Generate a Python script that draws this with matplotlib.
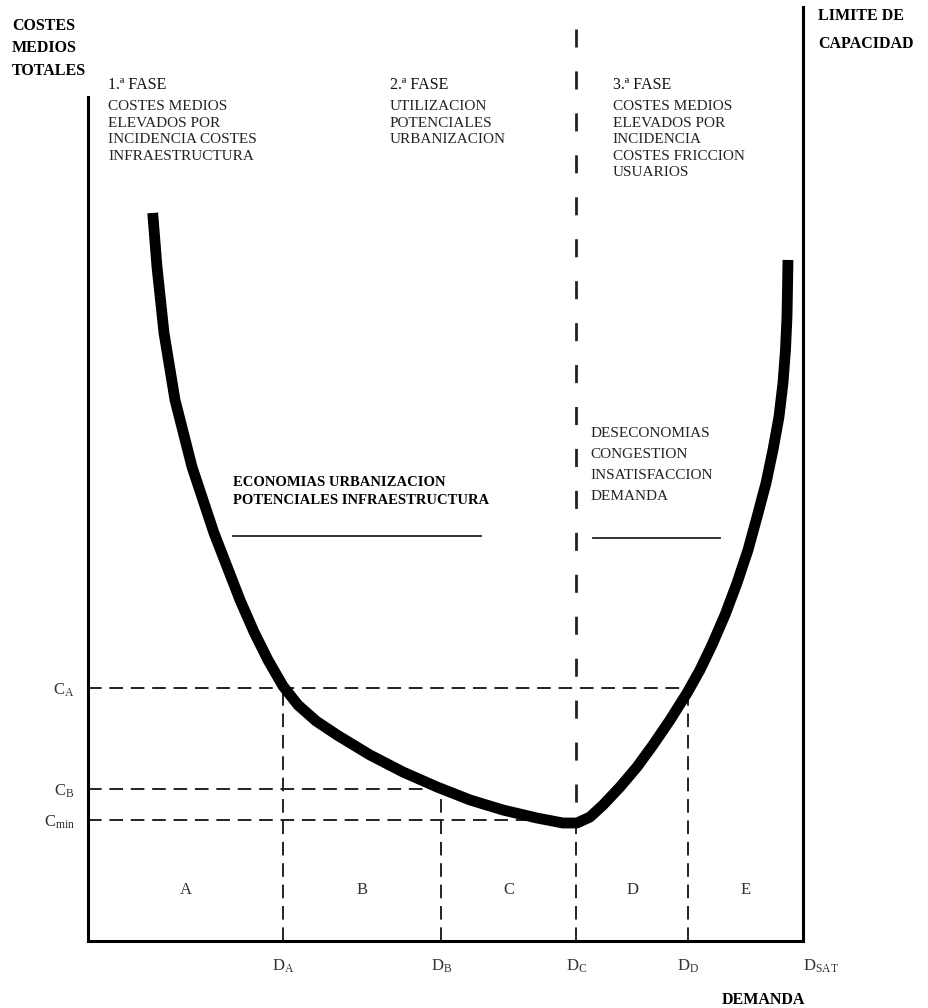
import matplotlib
matplotlib.use('Agg')
import matplotlib.pyplot as plt

plt.rcParams['font.family'] = ['Liberation Serif', 'DejaVu Serif']
plt.rcParams['mathtext.fontset'] = 'custom'
plt.rcParams['mathtext.rm'] = 'Liberation Serif'

# demand and average cost, arbitrary units (0-100)
demanda = [9.05, 9.65, 10.63, 12.17, 14.55, 17.62, 21.26, 23.22, 25.17,
           27.27, 29.37, 31.89, 34.83, 39.44, 44.06, 48.81, 53.43, 58.04,
           62.80, 66.43, 68.39, 70.21, 72.03, 74.41, 76.78, 79.02, 81.40,
           83.78, 85.59, 87.27, 89.09, 90.77, 92.31, 93.57, 94.83, 95.80,
           96.64, 97.20, 97.55, 97.76, 97.83, 97.90]
coste = [86.26, 79.86, 72.04, 64.10, 56.16, 48.34, 40.40, 36.61, 33.29,
         30.21, 27.96, 26.07, 24.41, 22.04, 20.02, 18.25, 16.71, 15.52,
         14.57, 13.98, 13.98, 14.69, 16.11, 18.25, 20.62, 23.22, 26.18,
         29.38, 32.11, 35.07, 38.63, 42.42, 46.33, 50.24, 54.27, 58.18,
         62.09, 66.11, 70.02, 73.93, 77.13, 80.69]

d_ticks = [27.3, 49.4, 68.3, 83.9, 100]
d_labels = [r'$\mathrm{D_A}$', r'$\mathrm{D_B}$', r'$\mathrm{D_C}$',
            r'$\mathrm{D_D}$', r'$\mathrm{D_{SAT}}$']
c_ticks = [30.0, 18.0, 14.3]
c_labels = [r'$\mathrm{C_A}$', r'$\mathrm{C_B}$', r'$\mathrm{C_{min}}$']
zonas = ['A', 'B', 'C', 'D', 'E']

fases = ['1.ª FASE', '2.ª FASE', '3.ª FASE']
fase_x = [2.8, 42.2, 73.4]
fase_txt = ['COSTES MEDIOS\nELEVADOS POR\nINCIDENCIA COSTES\nINFRAESTRUCTURA',
            'UTILIZACION\nPOTENCIALES\nURBANIZACION',
            'COSTES MEDIOS\nELEVADOS POR\nINCIDENCIA\nCOSTES FRICCION\nUSUARIOS']

fig = plt.figure(figsize=(9.29, 10.08), dpi=100)
ax = fig.add_axes([88 / 929, 67 / 1008, 715 / 929, 934 / 1008])
ax.set_xlim(0, 100)
ax.set_ylim(0, 110.66)

for s in ['left', 'right', 'bottom']:
    ax.spines[s].set_linewidth(2.2)
ax.spines['top'].set_visible(False)
ax.spines['left'].set_bounds(0, 100)

dash = dict(color='#222222', lw=1.4, ls=(0, (7, 4)))
dA, dB, dC, dD, dS = d_ticks
cA, cB, cmin = c_ticks

# guide lines
ax.plot([0, dD], [cA, cA], **dash)
ax.plot([0, dB], [cB, cB], **dash)
ax.plot([0, dC], [cmin, cmin], **dash)
ax.plot([dA, dA], [0, cA], **dash)
ax.plot([dB, dB], [0, cB], **dash)
ax.plot([dD, dD], [0, cA], **dash)
ax.plot([dC, dC], [0, min(coste)], **dash)
# phase separator
ax.plot([dC, dC], [108, min(coste)], color='#222222', lw=2.0,
        ls=(0, (6.5, 8.6)), clip_on=False)

ax.plot(demanda, coste, color='black', lw=7.8, solid_capstyle='butt',
        solid_joinstyle='round')

ax.set_xticks(d_ticks, d_labels)
ax.set_yticks(c_ticks, c_labels)
ax.tick_params(length=0, labelsize=12, colors='#333333')
ax.tick_params(axis='x', pad=12)
ax.tick_params(axis='y', pad=9.5)
ax.get_xticklabels()[-1].set_horizontalalignment('left')

bounds = [0] + d_ticks
for i, z in enumerate(zonas):
    ax.text((bounds[i] + bounds[i + 1]) / 2, 6.0, z, ha='center',
            va='center', fontsize=12, color='#333333')

for f, x, t in zip(fases, fase_x, fase_txt):
    ax.text(x, 102.4, f, fontsize=11.5, va='top', color='#111111')
    ax.text(x, 99.6, t, fontsize=11, va='top', linespacing=1.35,
            color='#222222')

ax.text(20.3, 55.1, 'ECONOMIAS URBANIZACION\nPOTENCIALES INFRAESTRUCTURA',
        fontsize=10.5, fontweight='bold', va='top', linespacing=1.5)
ax.plot([20.3, 55.0], [48.0, 48.0], color='#222222', lw=1.3)
ax.text(70.3, 60.9, 'DESECONOMIAS\nCONGESTION\nINSATISFACCION\nDEMANDA',
        fontsize=11, va='top', linespacing=1.8, color='#222222')
ax.plot([70.6, 88.4], [47.7, 47.7], color='#222222', lw=1.3)

ax.text(-10.6, 109.4, 'COSTES\nMEDIOS\nTOTALES', fontsize=11.5,
        fontweight='bold', va='top', linespacing=1.55)
ax.text(102.1, 110.5, 'LIMITE DE\nCAPACIDAD', fontsize=11.5,
        fontweight='bold', va='top', linespacing=1.95)
ax.text(94.4, -7.0, 'DEMANDA', fontsize=11.5, fontweight='bold',
        ha='center', va='center')

fig.savefig('out.png', dpi=100)
